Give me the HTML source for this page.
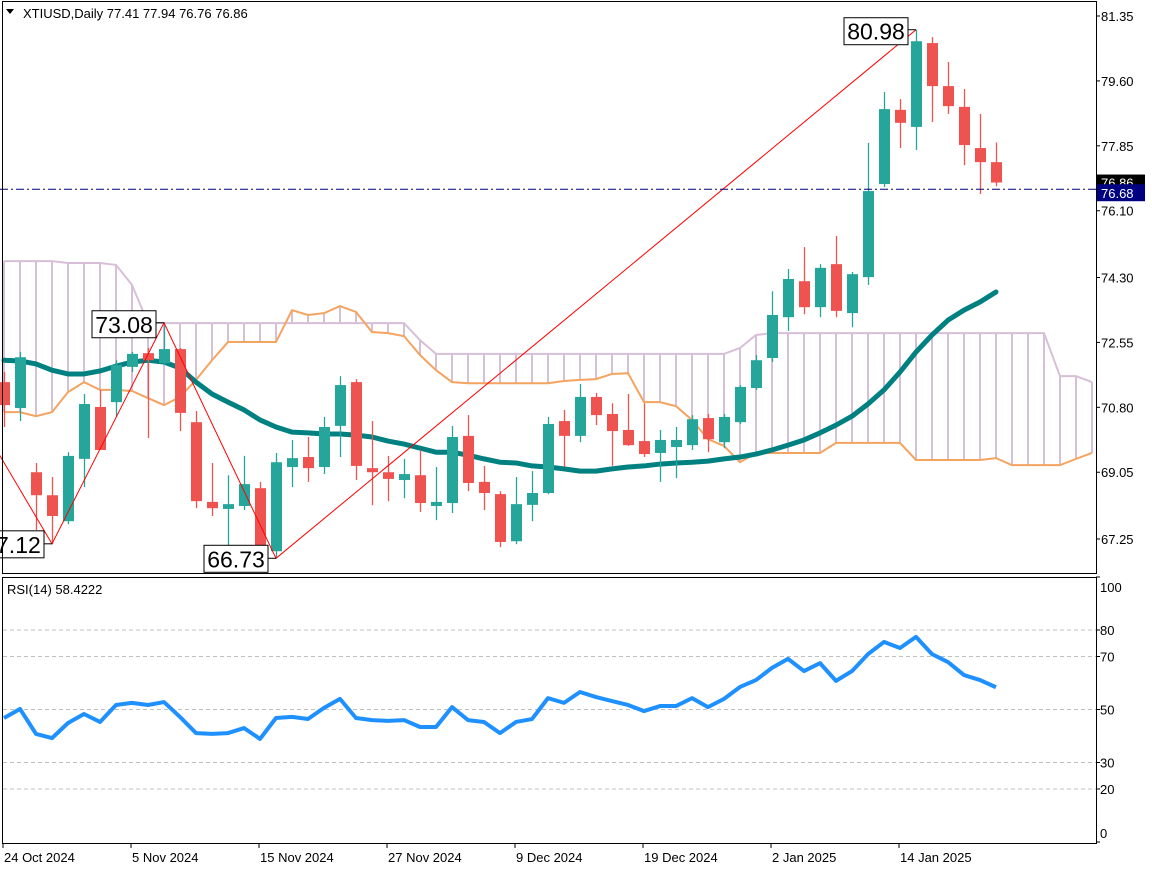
<!DOCTYPE html>
<html><head><meta charset="utf-8">
<style>
html,body{margin:0;padding:0;background:#fff;}
svg{display:block;font-family:"Liberation Sans",sans-serif;}
</style></head>
<body>
<svg id="chart" width="1152" height="870" viewBox="0 0 1152 870" xmlns="http://www.w3.org/2000/svg">
<rect x="0" y="0" width="1152" height="870" fill="#fff"/>
<g id="cloud"></g>
<g id="ma"></g>
<g id="candles"></g>
<g id="zig"></g>
<g id="rsi"></g>
<g id="axes"></g>
</svg>
<script>
const opens=[71.48,70.78,69.05,68.43,67.73,69.41,70.81,70.94,71.89,72.26,71.99,72.37,70.40,68.25,68.06,68.14,68.62,66.92,69.19,69.46,69.19,70.30,71.48,69.16,69.05,68.84,68.97,68.14,68.22,70.03,68.79,68.46,67.19,68.17,68.49,70.43,70.03,71.08,70.62,70.19,69.89,69.57,69.73,69.78,70.51,69.86,70.40,71.32,72.13,73.23,74.20,73.50,74.66,73.34,74.31,76.82,78.82,78.36,80.62,79.46,78.90,77.79,77.41];
const highs=[71.75,72.29,69.30,68.92,69.59,71.16,71.27,72.07,72.29,72.40,73.08,72.40,70.70,69.30,68.97,69.49,68.79,69.57,69.92,70.00,70.54,71.64,71.56,70.43,69.49,69.41,69.65,69.19,70.30,70.59,69.22,68.54,68.92,69.08,70.54,70.73,71.43,71.19,70.91,71.16,70.91,70.19,70.27,70.59,70.62,70.62,71.40,72.21,73.93,74.53,75.12,74.66,75.42,74.45,77.93,79.30,79.11,80.98,80.78,80.11,79.38,78.71,77.94];
const lows=[70.27,70.43,67.49,67.12,67.65,68.65,69.65,70.54,71.75,69.97,71.94,70.16,68.08,67.87,67.06,68.03,66.85,66.73,68.65,68.79,69.00,69.46,68.84,68.16,68.27,68.35,67.98,67.76,67.95,68.54,68.03,67.03,67.11,67.73,68.46,69.19,69.86,70.32,69.22,69.76,69.46,68.79,68.89,69.65,69.59,69.70,70.35,71.27,72.02,72.86,73.31,73.23,73.23,72.96,74.10,76.74,77.79,77.74,78.49,78.71,77.33,76.55,76.76];
const closes=[70.86,72.15,68.43,67.87,69.49,70.89,69.65,71.94,72.24,72.07,72.37,70.65,68.27,68.08,68.19,68.73,66.95,69.32,69.43,69.16,70.27,71.40,69.22,69.05,68.87,69.00,68.22,68.25,70.00,68.76,68.49,67.17,68.19,68.49,70.35,70.03,71.08,70.59,70.16,69.78,69.54,69.92,69.92,70.48,69.94,70.54,71.35,72.07,73.29,74.26,73.50,74.56,73.40,74.39,76.63,78.84,78.47,80.67,79.46,78.92,77.87,77.41,76.86];
const maValues=[72.07,72.05,71.97,71.80,71.70,71.70,71.78,71.91,72.02,72.07,72.02,71.86,71.48,71.16,70.94,70.73,70.46,70.27,70.13,70.11,70.08,70.08,70.05,70.00,69.89,69.81,69.70,69.59,69.59,69.51,69.41,69.32,69.30,69.22,69.19,69.14,69.08,69.08,69.14,69.19,69.22,69.27,69.30,69.32,69.35,69.41,69.46,69.54,69.65,69.78,69.92,70.11,70.32,70.56,70.89,71.27,71.75,72.29,72.75,73.15,73.42,73.64,73.91];
const spanB=[74.74,74.74,74.74,74.74,74.69,74.69,74.69,74.64,74.10,73.07,73.07,73.07,73.07,73.07,73.07,73.07,73.07,73.07,73.07,73.07,73.07,73.07,73.07,73.07,73.07,73.07,72.61,72.24,72.24,72.24,72.24,72.24,72.24,72.24,72.24,72.24,72.24,72.24,72.24,72.24,72.24,72.24,72.24,72.24,72.24,72.24,72.40,72.75,72.80,72.80,72.80,72.80,72.80,72.80,72.80,72.80,72.80,72.80,72.80,72.80,72.80,72.80,72.80,72.80,72.80,72.80,71.64,71.64,71.48];
const spanA=[70.67,70.67,70.56,70.67,71.21,71.48,71.27,71.27,71.24,71.05,70.86,71.08,71.54,72.07,72.56,72.56,72.56,72.56,73.42,73.29,73.34,73.53,73.37,72.83,72.80,72.72,72.21,71.80,71.48,71.45,71.45,71.45,71.45,71.45,71.45,71.51,71.54,71.56,71.70,71.72,70.94,70.94,70.83,70.46,69.94,69.76,69.32,69.57,69.57,69.57,69.57,69.57,69.84,69.84,69.84,69.84,69.84,69.38,69.38,69.38,69.38,69.38,69.43,69.24,69.24,69.24,69.24,69.41,69.57];
const rsiValues=[46.8,50.2,40.8,39.2,44.9,48.3,45.3,51.7,52.5,51.7,52.8,47.2,41.1,40.8,41.1,43.0,38.9,46.8,47.2,46.4,50.6,54.0,46.8,46.0,45.7,46.0,43.4,43.4,50.9,46.0,45.3,41.1,45.3,46.4,54.3,52.5,56.6,54.7,53.2,51.7,49.4,51.3,51.3,54.3,50.9,54.0,58.5,61.1,65.7,69.1,64.5,67.5,60.8,64.5,70.9,75.5,73.2,77.4,70.9,67.9,63.0,61.1,58.4];
const zigIdx=[-3,3,10,17,57];
const zigPrice=[71.5,67.12,73.08,66.73,80.98];
const zigLabels=["71.50","67.12","73.08","66.73","80.98"];
const priceTicks=[81.35,79.60,77.85,76.10,74.30,72.55,70.80,69.05,67.25];
const rsiTicks=[100,80,70,50,30,20,0];
const rsiGrid=[80,70,50,30,20];
const dateIdx=[0,8,16,24,32,40,48,56];
const dateLabels=["24 Oct 2024","5 Nov 2024","15 Nov 2024","27 Nov 2024","9 Dec 2024","19 Dec 2024","2 Jan 2025","14 Jan 2025"];
const bidPrice=76.68, lastClose=76.86;

const NS="http://www.w3.org/2000/svg";
const X=i=>4+16*i;
const Y=p=>16+(81.35-p)*(523/14.1);
const RY=v=>842-2.65*v;
function mk(parent,tag,attrs){const e=document.createElementNS(NS,tag);for(const k in attrs)e.setAttribute(k,attrs[k]);parent.appendChild(e);return e;}
const gC=document.getElementById('cloud'),gM=document.getElementById('ma'),gK=document.getElementById('candles'),gZ=document.getElementById('zig'),gR=document.getElementById('rsi'),gA=document.getElementById('axes');

for(let i=0;i<spanA.length;i++){
  const l=mk(gC,'line',{x1:X(i),x2:X(i),y1:Y(spanA[i]),y2:Y(spanB[i]),stroke:'#d8bfd8','stroke-width':2});
  
  
}
const sb=mk(gC,'polyline',{points:spanB.map((v,i)=>X(i)+','+Y(v)).join(' '),fill:'none',stroke:'#d8bfd8','stroke-width':2});


const sa=mk(gC,'polyline',{points:spanA.map((v,i)=>X(i)+','+Y(v)).join(' '),fill:'none',stroke:'#f4a460','stroke-width':2});



const ml=mk(gM,'polyline',{points:maValues.map((v,i)=>X(i)+','+Y(v)).join(' '),fill:'none',stroke:'#008080','stroke-width':5,'stroke-linejoin':'round','stroke-linecap':'round'});



const bl=mk(gA,'line',{x1:0,x2:1096,y1:Y(bidPrice),y2:Y(bidPrice),stroke:'#000080','stroke-width':1,'stroke-dasharray':'8,3,2,3'});



for(let i=0;i<opens.length;i++){
  const up=closes[i]>=opens[i],col=up?'#26a69a':'#ef5350';
  const g=mk(gK,'g',{});
  
  
  mk(g,'line',{x1:X(i)+0.5,x2:X(i)+0.5,y1:Y(highs[i]),y2:Y(lows[i]),stroke:col,'stroke-width':1.3});
  const t=Y(Math.max(opens[i],closes[i])),b=Y(Math.min(opens[i],closes[i]));
  mk(g,'rect',{x:X(i)-5,y:t,width:11,height:Math.max(1.5,b-t),fill:col});
}

const zl=mk(gZ,'polyline',{points:zigIdx.map((k,j)=>X(k)+','+Y(zigPrice[j])).join(' '),fill:'none',stroke:'#ff0000','stroke-width':1});


for(let j=1;j<zigIdx.length;j++){
  const x=X(zigIdx[j]),y=Y(zigPrice[j]),high=j%2==0;
  const g=mk(gZ,'g',{});
  
  
  const w=64,h=27,bx=x-w-8,by=high?y-12:y-13;
  mk(g,'rect',{x:bx,y:by,width:w,height:h,fill:'#fff',stroke:'#000','stroke-width':1});
  mk(g,'line',{x1:bx+w,x2:x,y1:y,y2:y,stroke:'#000'});
  const tx=mk(g,'text',{x:bx+w/2,y:by+22,'font-size':23,'text-anchor':'middle',fill:'#000'});tx.textContent=zigLabels[j];
}

mk(gA,'rect',{x:1097,y:0,width:55,height:870,fill:'#fff'});
mk(gA,'rect',{x:0,y:845,width:1152,height:25,fill:'#fff'});
mk(gA,'rect',{x:0,y:574,width:1097,height:3,fill:'#fff'});
const f1=mk(gA,'rect',{x:2.5,y:1.5,width:1094,height:572,fill:'none',stroke:'#000','stroke-width':1});


const f2=mk(gA,'rect',{x:2.5,y:577.5,width:1094,height:266,fill:'none',stroke:'#000','stroke-width':1});



const hd=mk(gA,'text',{x:23,y:18,'font-size':13,fill:'#000'});


hd.textContent='XTIUSD,Daily  77.41 77.94 76.76 76.86';
mk(gA,'path',{d:'M6 9 L14 9 L10 14 Z',fill:'#000'});

priceTicks.forEach(p=>{
  mk(gA,'line',{x1:1096,x2:1100,y1:Y(p),y2:Y(p),stroke:'#000'});
  const t=mk(gA,'text',{x:1101,y:Y(p)+5,'font-size':13,fill:'#000'});
  
  
  t.textContent=p.toFixed(2);
});
mk(gA,'rect',{x:1097,y:Y(lastClose)-8,width:48,height:16,fill:'#000'});
const lc=mk(gA,'text',{x:1101,y:Y(lastClose)+5,'font-size':13,fill:'#fff'});lc.textContent=lastClose.toFixed(2);
mk(gA,'rect',{x:1097,y:Y(bidPrice)-5,width:48,height:17,fill:'#000080'});
const bp=mk(gA,'text',{x:1101,y:Y(bidPrice)+9,'font-size':13,fill:'#fff'});


bp.textContent=bidPrice.toFixed(2);

rsiGrid.forEach(v=>{mk(gR,'line',{x1:3,x2:1096,y1:RY(v),y2:RY(v),stroke:'#c0c0c0','stroke-dasharray':'4,3'});});
const rl=mk(gR,'polyline',{points:rsiValues.map((v,i)=>X(i)+','+RY(v)).join(' '),fill:'none',stroke:'#1e90ff','stroke-width':4,'stroke-linejoin':'round'});


const rt=mk(gA,'text',{x:7,y:594,'font-size':13,fill:'#000'});


rt.textContent='RSI(14) 58.4222';
rsiTicks.forEach(v=>{
  mk(gA,'line',{x1:1096,x2:1100,y1:RY(v),y2:RY(v),stroke:'#000'});
  const t=mk(gA,'text',{x:1100,y:Math.min(RY(v)+5,838)+(v==100?10:0),'font-size':13,fill:'#000'});
  
  
  t.textContent=String(v);
});

dateIdx.forEach((k,j)=>{
  const x=X(k)-1;
  mk(gA,'line',{x1:x,x2:x,y1:843,y2:848,stroke:'#000'});
  const t=mk(gA,'text',{x:x+1,y:862,'font-size':13,fill:'#000'});
  
  
  t.textContent=dateLabels[j];
});
</script>
</body></html>
